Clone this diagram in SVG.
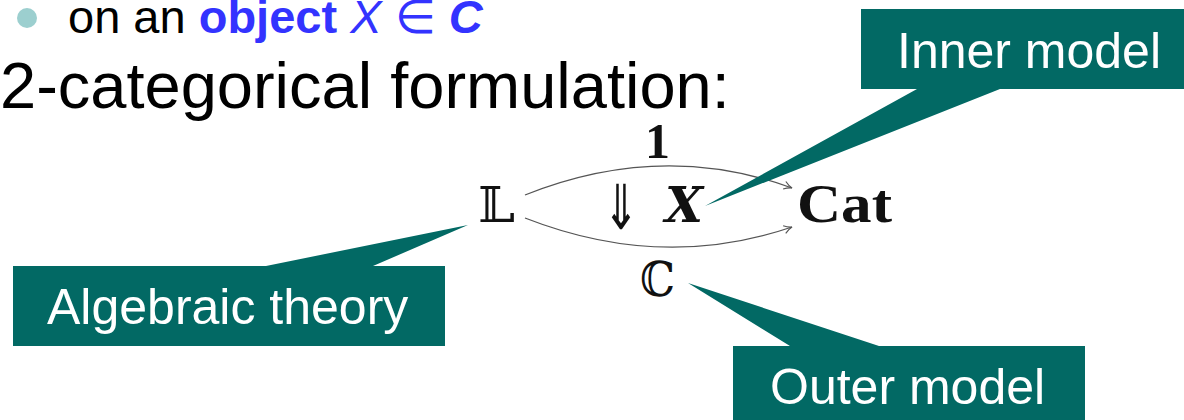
<svg xmlns="http://www.w3.org/2000/svg" width="1184" height="420" viewBox="0 0 1184 420">
<defs>
<style>
.call{fill:#026964;}
.ct{font-family:"Liberation Sans",Arial,sans-serif;font-size:50px;fill:#ffffff;}
.body{font-family:"Liberation Sans",Arial,sans-serif;fill:#000000;}
.blue{fill:#3333ff;}
.math{font-family:"DejaVu Serif","Liberation Serif",serif;fill:#111111;}
.arc{fill:none;stroke:#555555;stroke-width:1.3;}
</style>
<marker id="hook" viewBox="0 0 10 10" refX="9" refY="5" markerWidth="10" markerHeight="10" markerUnits="userSpaceOnUse" orient="auto">
<path d="M1,1 Q5,4 9,5 Q5,6 1,9" fill="none" stroke="#555555" stroke-width="1.2"/>
</marker>
</defs>
<rect width="1184" height="420" fill="#ffffff"/>
<g id="header">
<circle cx="27" cy="18" r="10" fill="#9ccfcf"/>
<text class="body" x="68" y="33" font-size="47">on an <tspan class="blue" font-weight="bold">object</tspan> <tspan class="blue" font-style="italic">X</tspan> <tspan class="blue">∈</tspan> <tspan class="blue" font-weight="bold" font-style="italic">C</tspan></text>
<text class="body" x="0" y="108" font-size="65">2-categorical formulation:</text>
</g>
<g id="connectors">
<path class="arc" d="M525,195 Q661.5,140.5 792,188" marker-end="url(#hook)"/>
<path class="arc" d="M525,218 Q661.5,271.5 792,227" marker-end="url(#hook)"/>
</g>
<g id="node-L"><text class="math" x="478" y="222" font-size="48" textLength="37" lengthAdjust="spacingAndGlyphs">𝕃</text></g>
<g id="node-Cat"><text x="797" y="222" font-family="'Liberation Serif',serif" font-size="54" font-weight="bold" fill="#111111" textLength="95" lengthAdjust="spacingAndGlyphs">Cat</text></g>
<g id="label-1"><text x="645" y="158" font-family="'Liberation Serif',serif" font-size="50" font-weight="bold" fill="#111111" textLength="25" lengthAdjust="spacingAndGlyphs">1</text></g>
<g id="label-X"><text x="603" y="229" font-family="'DejaVu Sans',sans-serif" font-size="62" fill="#111111" textLength="36" lengthAdjust="spacingAndGlyphs">⇓</text><text class="math" x="665" y="222" font-size="48" font-weight="bold" font-style="italic" textLength="38" lengthAdjust="spacingAndGlyphs">X</text></g>
<g id="label-C"><text class="math" x="640" y="296" font-size="48" textLength="35" lengthAdjust="spacingAndGlyphs">ℂ</text></g>
<g id="callout-inner">
<polygon class="call" points="861,9 1184,9 1184,89 1000,89 705,206 917,89 861,89"/>
<text class="ct" x="897" y="68">Inner model</text>
</g>
<g id="callout-algebraic">
<polygon class="call" points="13,266 266,266 468,225 373,266 445,266 445,346 13,346"/>
<text class="ct" x="47" y="324">Algebraic theory</text>
</g>
<g id="callout-outer">
<polygon class="call" points="733,346 790,346 688,283 879,346 1085,346 1085,420 733,420"/>
<text class="ct" x="770" y="404">Outer model</text>
</g>
</svg>
